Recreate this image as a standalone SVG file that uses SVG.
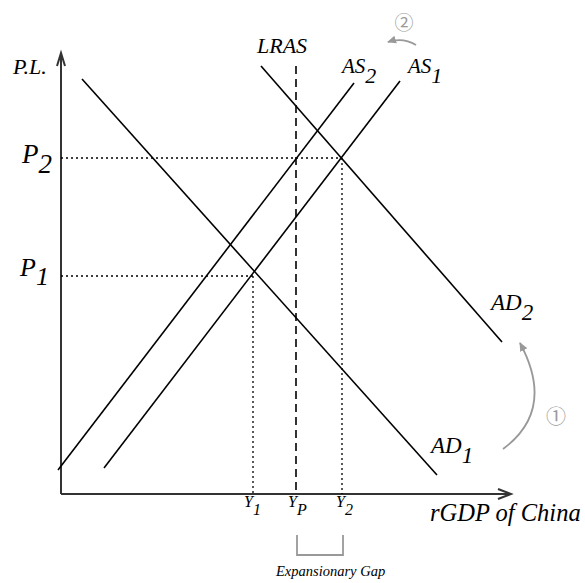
<svg xmlns="http://www.w3.org/2000/svg" width="585" height="583" viewBox="0 0 585 583">
<defs>
<marker id="gh" markerWidth="10" markerHeight="10" refX="8" refY="5" orient="auto" markerUnits="userSpaceOnUse">
<path d="M0,1 L9,5 L0,9 Z" fill="#999"/>
</marker>
<style>
.ax{stroke:#333;stroke-width:2;fill:none}
.ln{stroke:#000;stroke-width:1.6;fill:none}
.dot{stroke:#000;stroke-width:1.3;stroke-dasharray:2,3;fill:none}
.dash{stroke:#000;stroke-width:1.6;stroke-dasharray:8,5;fill:none}
.g{stroke:#999;stroke-width:1.8;fill:none}
.t{font-family:'Liberation Serif','DejaVu Serif',serif;font-style:italic;fill:#000}
.c{font-family:'Noto Sans CJK SC','DejaVu Sans',sans-serif;fill:#999}
</style>
</defs>
<rect width="585" height="583" fill="#fff"/>
<g id="axes">
<path class="ax" d="M61,494 V53 M57,66 L61,53 L65,66"/>
<path class="ax" d="M61,494 H511 M498,489 L511,494 L498,499"/>
<text class="t" x="13" y="74" font-size="22">P.L.</text>
<text class="t" x="430" y="521" font-size="24.5">rGDP of China</text>
</g>
<g id="connectors">
<path class="dot" d="M61,158 H342 M342,158 V494"/>
<path class="dot" d="M61,276 H253 M253,276 V494"/>
<path class="g" d="M297,535 V555 H343 V535"/>
<path class="g" d="M416,45 Q403,37 388,42" marker-end="url(#gh)"/>
<path class="g" d="M503,449 Q556,410 520,343" marker-end="url(#gh)"/>
</g>
<g id="AD1"><path class="ln" d="M82,79 L437,475"/>
<text class="t" x="431" y="453" font-size="23">AD<tspan dy="10">1</tspan></text></g>
<g id="AD2"><path class="ln" d="M261,66 L502,342"/>
<text class="t" x="491" y="310" font-size="23">AD<tspan dy="10">2</tspan></text></g>
<g id="LRAS"><path class="dash" d="M296,66 V494"/>
<text class="t" x="257" y="53" font-size="22">LRAS</text></g>
<g id="AS1"><path class="ln" d="M104,468 L400,81"/>
<text class="t" x="408" y="73" font-size="21">AS<tspan dy="10" font-size="22">1</tspan></text></g>
<g id="AS2"><path class="ln" d="M58,470 L354,83"/>
<text class="t" x="342" y="73" font-size="21">AS<tspan dy="10" font-size="22">2</tspan></text></g>
<g id="P2"><text class="t" x="22" y="163" font-size="27">P<tspan dy="10">2</tspan></text></g>
<g id="P1"><text class="t" x="20" y="276" font-size="26">P<tspan dy="9">1</tspan></text></g>
<g id="Y1"><text class="t" x="244" y="507" font-size="16">Y<tspan dy="8">1</tspan></text></g>
<g id="YP"><text class="t" x="288" y="507" font-size="16">Y<tspan dy="8">P</tspan></text></g>
<g id="Y2"><text class="t" x="336" y="507" font-size="16">Y<tspan dy="8">2</tspan></text></g>
<g id="gap"><text class="t" x="276" y="576" font-size="14.5">Expansionary Gap</text></g>
<g id="step1"><text class="c" x="556" y="424" font-size="20" text-anchor="middle">①</text></g>
<g id="step2"><text class="c" x="404" y="30" font-size="19" text-anchor="middle">②</text></g>
</svg>
